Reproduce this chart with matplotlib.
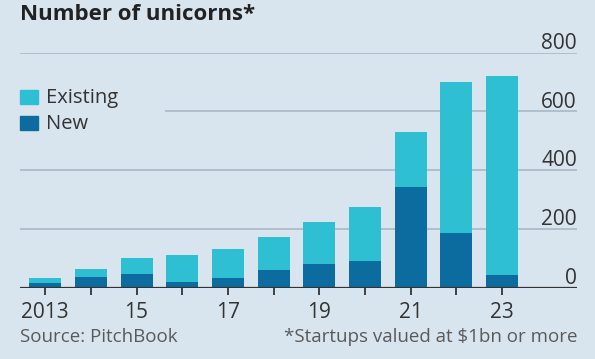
import matplotlib.pyplot as plt

years = [2013, 2014, 2015, 2016, 2017, 2018, 2019, 2020, 2021, 2022, 2023]
year_labels = ['2013', '', '15', '', '17', '', '19', '', '21', '', '23']
total = [34, 63, 102, 112, 131, 171, 222, 276, 531, 700, 720]
new = [16, 37, 47, 18, 33, 61, 80, 92, 343, 187, 44]
existing = [t - n for t, n in zip(total, new)]
y_ticks = [0, 200, 400, 600, 800]

bg = '#d8e5ee'
c_exist = '#2ebfd3'
c_new = '#0d6c9f'
grid_c = '#a8b8c4'
dark = '#333333'

plt.rcParams['font.family'] = ['Open Sans', 'DejaVu Sans']

fig = plt.figure(figsize=(5.95, 3.59), dpi=100, facecolor=bg)
ax = fig.add_axes([20 / 595, 1 - 287.7 / 359, 557 / 595, 235 / 359])
ax.set_facecolor(bg)

ax.set_xlim(2012.45, 2024.64)
ax.set_ylim(0, 800)

# gridlines (the 600 one leaves room for the legend)
for v in y_ticks:
    if v > 0:
        xmin = 0.263 if v == 600 else 0.0
        ax.axhline(v, xmin=xmin, xmax=1, color=grid_c, lw=1.2, zorder=0)
    ax.text(1, v + 13, str(v), transform=ax.get_yaxis_transform(),
            ha='right', va='baseline', fontsize=15, color=dark)

ax.bar(years, new, width=0.7, color=c_new, label='New', zorder=2)
ax.bar(years, existing, width=0.7, bottom=new, color=c_exist,
       label='Existing', zorder=2)

ax.axhline(0, color=dark, lw=1.6, zorder=3)

for s in ax.spines.values():
    s.set_visible(False)
ax.set_yticks([])
ax.set_xticks(years)
ax.set_xticklabels(year_labels, fontsize=15, color=dark)
ax.tick_params(axis='x', length=5, width=1.3, color=dark, pad=5)

# legend
fig.patches.append(plt.Rectangle((20 / 595, 1 - 104 / 359), 18 / 595, 14 / 359,
                                 transform=fig.transFigure, color=c_exist))
fig.patches.append(plt.Rectangle((20 / 595, 1 - 130 / 359), 18 / 595, 14 / 359,
                                 transform=fig.transFigure, color=c_new))
fig.text(46 / 595, 1 - 98 / 359, 'Existing', fontsize=14.5, color=dark, va='center')
fig.text(46 / 595, 1 - 124 / 359, 'New', fontsize=14.5, color=dark, va='center')

fig.text(20 / 595, 1 - 15 / 359, 'Number of unicorns*', fontsize=16,
         fontweight='bold', color='#222222', va='center')
fig.text(20 / 595, 1 - 337 / 359, 'Source: PitchBook', fontsize=13.5,
         color='#5a5a5a', va='center')
fig.text(577 / 595, 1 - 337 / 359, '*Startups valued at $1bn or more',
         fontsize=13.5, color='#5a5a5a', va='center', ha='right')

fig.savefig('out.png', dpi=100, facecolor=bg)
